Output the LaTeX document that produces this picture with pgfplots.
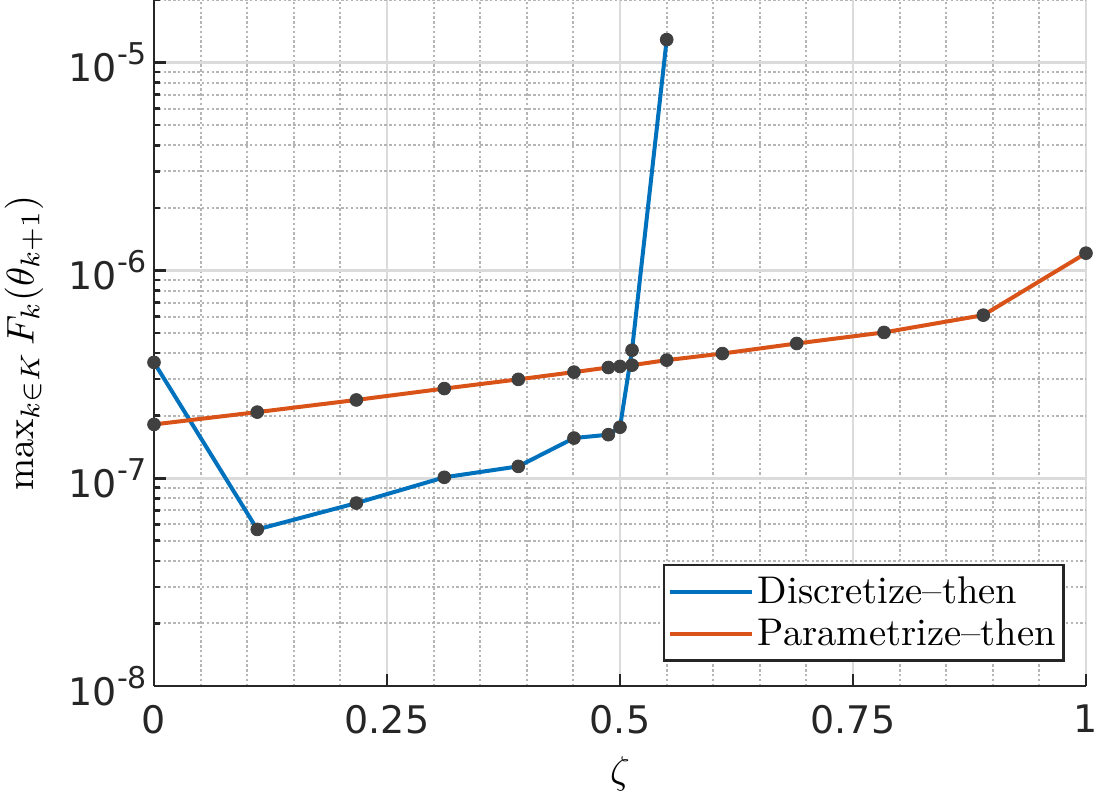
\documentclass[border=0pt]{standalone}
\usepackage{fix-cm}
\usepackage{fontspec}
\newfontfamily\dejavu{DejaVu Sans}
\usepackage{graphicx}
\usepackage{pgfplots}
\usepackage{pgfplotstable}
\pgfplotsset{compat=1.18}
\definecolor{mblue}{rgb}{0,0.447,0.741}
\definecolor{morange}{rgb}{0.85,0.325,0.098}
\definecolor{axcol}{HTML}{262626}
\definecolor{mkcol}{HTML}{404040}

\pgfplotstableread{
x y
0 3.61e-7
0.1108 5.67e-8
0.2171 7.59e-8
0.3115 1.01e-7
0.3909 1.14e-7
0.4506 1.56e-7
0.4875 1.62e-7
0.5 1.76e-7
0.5129 4.13e-7
0.5501 1.29e-5
}\discr

\pgfplotstableread{
x y
0 1.815e-7
0.1108 2.08e-7
0.2171 2.38e-7
0.3115 2.70e-7
0.3909 2.99e-7
0.4506 3.24e-7
0.4875 3.41e-7
0.5 3.45e-7
0.5129 3.50e-7
0.5501 3.70e-7
0.6098 3.98e-7
0.6896 4.45e-7
0.7833 5.03e-7
0.8898 6.09e-7
1 1.21e-6
}\param

\newcommand{\pw}[1]{10\raisebox{8.5pt}{\fontsize{15}{15}\selectfont -#1}}
\newcommand{\bigt}[1]{\scalebox{1.93}{#1}}

\begin{document}
\begin{tikzpicture}
\begin{axis}[
  scale only axis, width=466pt, height=343pt,
  xmin=0, xmax=1, ymode=log, ymin=1e-8, ymax=2e-5,
  axis x line*=bottom, axis y line*=left,
  axis line style={axcol, line width=1.4pt, -},
  xtick={0,0.25,0.5,0.75,1}, xticklabels={0,0.25,0.5,0.75,1},
  minor xtick={0.05,0.1,0.15,0.2,0.3,0.35,0.4,0.45,0.55,0.6,0.65,0.7,0.8,0.85,0.9,0.95},
  ytick={1e-8,1e-7,1e-6,1e-5},
  yticklabels={\pw{8},\pw{7},\pw{6},\pw{5}},
  minor ytick={2e-8,3e-8,4e-8,5e-8,6e-8,7e-8,8e-8,9e-8,
               2e-7,3e-7,4e-7,5e-7,6e-7,7e-7,8e-7,9e-7,
               2e-6,3e-6,4e-6,5e-6,6e-6,7e-6,8e-6,9e-6,2e-5},
  grid=both,
  major grid style={line width=1.3pt, color=gray!28},
  minor grid style={line width=1pt, color=gray!58, dash pattern=on 1.2pt off 1.2pt},
  tick style={axcol, line width=1.3pt},
  major tick length=6pt, minor tick length=3pt,
  minor x tick style={draw=none},
  ticklabel style={font=\dejavu\fontsize{19}{22}\selectfont, text=axcol},
  xticklabel style={yshift=-6pt},
  xlabel={\bigt{$\zeta$}},
  ylabel={\bigt{$\max_{k\in K}F_k(\theta_{k+1})$}},
  label style={font=\fontsize{10}{12}\selectfont},
  xlabel style={at={(axis description cs:0.5,-0.1283)}, anchor=center},
  ylabel style={at={(axis description cs:-0.1395,0.5)}, anchor=center},
  legend style={at={(0.9775,0.035)}, anchor=south east, draw=axcol, line width=1.3pt,
    font=\fontsize{10}{12}\selectfont, cells={anchor=west}, inner xsep=2pt, inner ysep=4pt,
    row sep=2pt},
  legend image code/.code={\draw[#1, line width=2pt] (0pt,0pt) -- (41pt,0pt);},
]
\addplot[mblue, line width=2pt] table[x=x,y=y]{\discr};
\addlegendentry{\bigt{Discretize--then}}
\addplot[morange, line width=2pt] table[x=x,y=y]{\param};
\addlegendentry{\bigt{Parametrize--then}}
\addplot[only marks, mark=*, mark size=3.2pt, mkcol, forget plot] table[x=x,y=y]{\discr};
\addplot[only marks, mark=*, mark size=3.2pt, mkcol, forget plot] table[x=x,y=y]{\param};
\end{axis}
\pgfresetboundingbox
\path[use as bounding box] (-77pt,-57pt) rectangle (473pt,343pt);
\end{tikzpicture}
\end{document}
